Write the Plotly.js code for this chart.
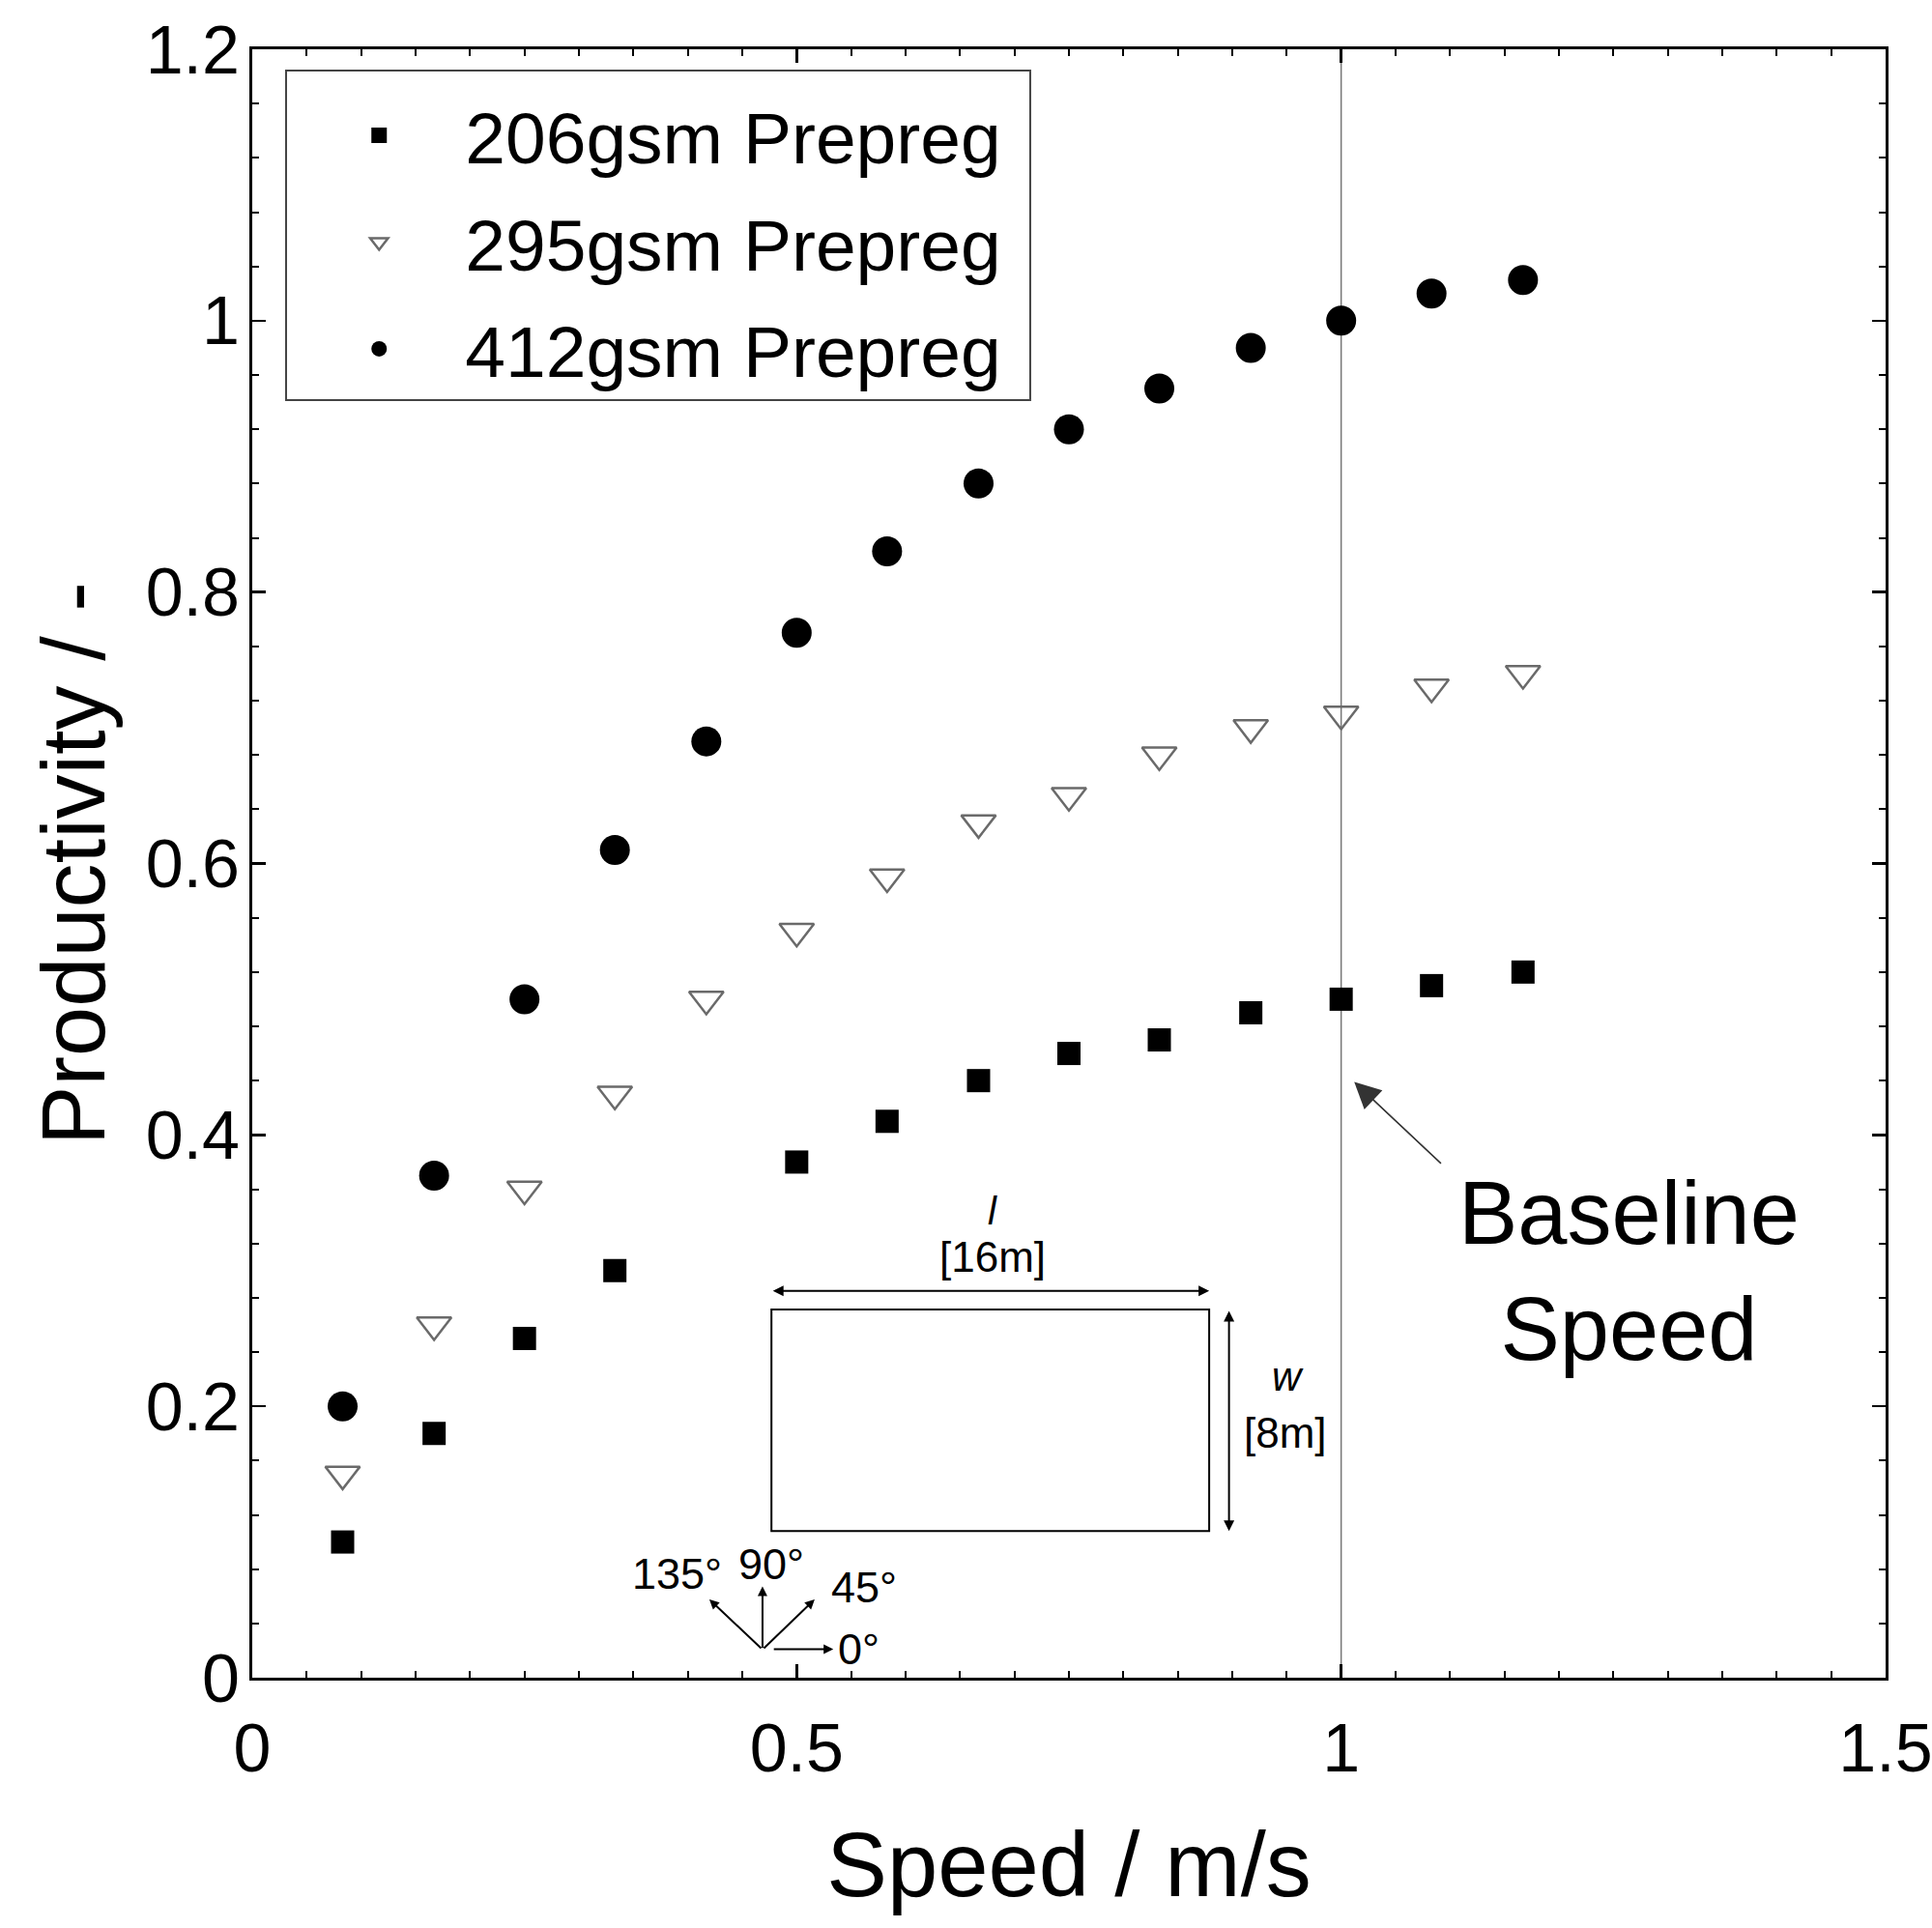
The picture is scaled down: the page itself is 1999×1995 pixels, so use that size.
<!DOCTYPE html>
<html>
<head>
<meta charset="utf-8">
<script src="https://cdn.plot.ly/plotly-3.0.1.min.js"></script>
<style>html,body{margin:0;padding:0;background:#fff;}#chart{width:1999px;height:1995px;}</style>
</head>
<body>
<div id="chart"></div>
<script>
// Speed in m/s
const speed = [0.083, 0.167, 0.25, 0.333, 0.417, 0.5, 0.583, 0.667, 0.75, 0.833, 0.917, 1.0, 1.083, 1.167];
// Productivity
const prod206 = [0.10, 0.18, 0.25, 0.30, null, 0.38, 0.41, 0.44, 0.46, 0.47, 0.49, 0.50, 0.51, 0.52];
const prod295 = [0.15, 0.26, 0.36, 0.43, 0.50, 0.55, 0.59, 0.63, 0.65, 0.68, 0.70, 0.71, 0.73, 0.74];
const prod412 = [0.20, 0.37, 0.50, 0.61, 0.69, 0.77, 0.83, 0.88, 0.92, 0.95, 0.98, 1.00, 1.02, 1.03];
const seriesNames = ['206gsm Prepreg', '295gsm Prepreg', '412gsm Prepreg'];
const baselineSpeed = 1.0;
const xTickVals = [0, 0.5, 1, 1.5];
const yTickVals = [0, 0.2, 0.4, 0.6, 0.8, 1, 1.2];

const FONT = 'Liberation Sans, Arial, Helvetica, sans-serif';

const traces = [
  {x: speed, y: prod206, name: seriesNames[0], legendgroup: 'a', type: 'scatter', mode: 'markers',
   marker: {symbol: 'square', size: 24, color: '#000'}},
  {x: speed, y: prod295, name: seriesNames[1], legendgroup: 'b', type: 'scatter', mode: 'markers',
   marker: {symbol: 'triangle-down-open', size: 31, color: '#6a6a6a', line: {width: 2.5, color: '#6a6a6a'}}},
  {x: speed, y: prod412, name: seriesNames[2], legendgroup: 'c', type: 'scatter', mode: 'markers',
   marker: {symbol: 'circle', size: 31, color: '#000'}}
];

const axisCommon = {
  showgrid: false, zeroline: false, showline: true, linecolor: '#000', linewidth: 3,
  mirror: 'ticks', ticks: 'inside', ticklen: 14, tickwidth: 2.5, tickcolor: '#000',
  ticklabeloverflow: 'allow',
  tickfont: {family: FONT, size: 70, color: '#000'}
};

const annFont = (s, it) => ({family: FONT, size: s, color: '#000', style: it ? 'italic' : 'normal'});

const annotations = [
  // Baseline speed label and arrow
  {x: 1.264, y: 0.300, xref: 'x', yref: 'y', text: 'Baseline<br>Speed', showarrow: false,
   font: annFont(92), align: 'center', xanchor: 'center', yanchor: 'middle'},
  {x: 1.012, y: 0.439, xref: 'x', yref: 'y', ax: 1.093, ay: 0.378, axref: 'x', ayref: 'y',
   text: '', showarrow: true, arrowhead: 2, arrowsize: 3.4, arrowwidth: 1.6, arrowcolor: '#333', standoff: 0},
  // inset: length arrow
  {x: 0.8788, y: 0.285, xref: 'x', yref: 'y', ax: 0.4768, ay: 0.285, axref: 'x', ayref: 'y',
   text: '', showarrow: true, arrowhead: 2, startarrowhead: 2, arrowside: 'end+start', arrowsize: 1.1, startarrowsize: 1.1,
   arrowwidth: 2, arrowcolor: '#000', standoff: 0, startstandoff: 0},
  // inset: width arrow
  {x: 0.897, y: 0.108, xref: 'x', yref: 'y', ax: 0.897, ay: 0.2714, axref: 'x', ayref: 'y',
   text: '', showarrow: true, arrowhead: 2, startarrowhead: 2, arrowside: 'end+start', arrowsize: 1.1, startarrowsize: 1.1,
   arrowwidth: 2, arrowcolor: '#000', standoff: 0, startstandoff: 0},
  {x: 0.6795, y: 0.3375, xref: 'x', yref: 'y', text: 'l', showarrow: false, font: annFont(40, true), yanchor: 'bottom', yshift: -15},
  {x: 0.6795, y: 0.3105, xref: 'x', yref: 'y', text: '[16m]', showarrow: false, font: annFont(44)},
  {x: 0.951, y: 0.2215, xref: 'x', yref: 'y', text: 'w', showarrow: false, font: annFont(42, true)},
  {x: 0.949, y: 0.1807, xref: 'x', yref: 'y', text: '[8m]', showarrow: false, font: annFont(44)},
  // orientation rose
  {x: 0.5336, y: 0.0210, xref: 'x', yref: 'y', ax: -63, ay: 0, text: '', showarrow: true,
   arrowhead: 2, arrowsize: 1, arrowwidth: 2, arrowcolor: '#000', standoff: 0},
  {x: 0.4686, y: 0.0673, xref: 'x', yref: 'y', ax: 0, ay: 65, text: '', showarrow: true,
   arrowhead: 2, arrowsize: 1, arrowwidth: 2, arrowcolor: '#000', standoff: 0},
  {x: 0.5165, y: 0.0577, xref: 'x', yref: 'y', ax: -54, ay: 52, text: '', showarrow: true,
   arrowhead: 2, arrowsize: 1, arrowwidth: 2, arrowcolor: '#000', standoff: 0},
  {x: 0.4198, y: 0.0577, xref: 'x', yref: 'y', ax: 55, ay: 52, text: '', showarrow: true,
   arrowhead: 2, arrowsize: 1, arrowwidth: 2, arrowcolor: '#000', standoff: 0},
  {x: 0.390, y: 0.0769, xref: 'x', yref: 'y', text: '135°', showarrow: false, font: annFont(45)},
  {x: 0.477, y: 0.0840, xref: 'x', yref: 'y', text: '90°', showarrow: false, font: annFont(45)},
  {x: 0.562, y: 0.0669, xref: 'x', yref: 'y', text: '45°', showarrow: false, font: annFont(45)},
  {x: 0.557, y: 0.0207, xref: 'x', yref: 'y', text: '0°', showarrow: false, font: annFont(45)}
];

const shapes = [
  {type: 'line', xref: 'x', yref: 'paper', x0: baselineSpeed, x1: baselineSpeed, y0: 0, y1: 1,
   line: {color: '#777', width: 1.5}, layer: 'below'},
  {type: 'rect', xref: 'x', yref: 'y', x0: 0.4768, x1: 0.8788, y0: 0.108, y1: 0.2714,
   line: {color: '#000', width: 2}, fillcolor: 'rgba(0,0,0,0)'},
  // legend frame
  {type: 'rect', xref: 'paper', yref: 'paper', x0: 0.0207, x1: 0.4763, y0: 0.7846, y1: 0.9869,
   line: {color: '#444', width: 2}, fillcolor: 'rgba(0,0,0,0)'}
];

const layout = {
  width: 1999, height: 1995,
  margin: {l: 261, r: 48, t: 51, b: 259, pad: 0},
  paper_bgcolor: '#fff', plot_bgcolor: '#fff',
  font: {family: FONT, color: '#000'},
  showlegend: true,
  legend: {x: 0.025, y: 0.980, xanchor: 'left', yanchor: 'top', bgcolor: 'rgba(0,0,0,0)',
    borderwidth: 0, font: {family: FONT, size: 75, color: '#000'}, itemwidth: 168,
    traceorder: 'grouped', tracegroupgap: 10},
  xaxis: Object.assign({}, axisCommon, {
    range: [0, 1.5], tickvals: xTickVals, ticktext: xTickVals.map(String),
    minor: {dtick: 0.05, ticklen: 7, tickwidth: 2, tickcolor: '#000', ticks: 'inside'},
    ticklabelstandoff: 10,
    title: {text: 'Speed / m/s', font: {family: FONT, size: 94, color: '#000'}, standoff: 50}
  }),
  yaxis: Object.assign({}, axisCommon, {
    range: [0, 1.2], tickvals: yTickVals, ticktext: yTickVals.map(String),
    minor: {dtick: 0.04, ticklen: 7, tickwidth: 2, tickcolor: '#000', ticks: 'inside'},
    ticklabelstandoff: -4,
    title: {text: 'Productivity / -', font: {family: FONT, size: 92, color: '#000'}, standoff: 12}
  }),
  annotations: annotations,
  shapes: shapes
};

Plotly.newPlot('chart', traces, layout, {staticPlot: true, displayModeBar: false});
</script>
</body>
</html>
